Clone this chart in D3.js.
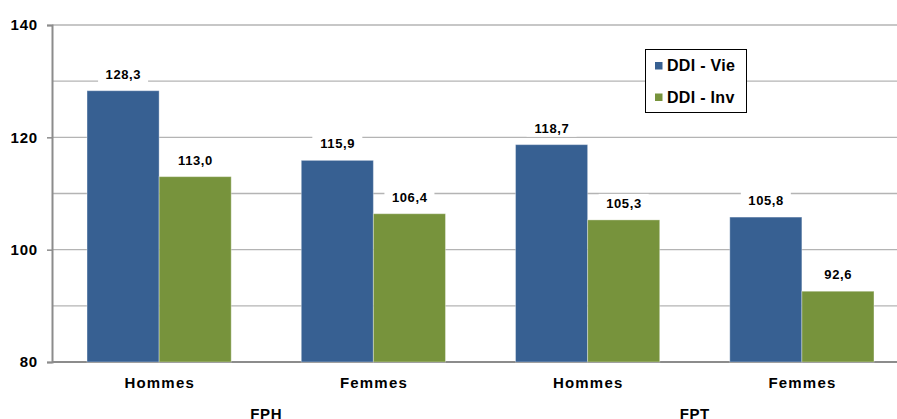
<!DOCTYPE html>
<html><head><meta charset="utf-8">
<script src="https://cdn.jsdelivr.net/npm/d3@7/dist/d3.min.js"></script>
<style>body{margin:0;background:#fff}svg{display:block}text{font-family:"Liberation Sans",Arial,sans-serif;font-weight:bold;fill:#000}</style>
</head><body><svg id="c" width="897" height="419"></svg>
<script>
const categories = ["Hommes","Femmes","Hommes","Femmes"];
const groups = ["FPH","FPT"];
const seriesNames = ["DDI - Vie","DDI - Inv"];
const vie = [128.3,115.9,118.7,105.8];
const inv = [113.0,106.4,105.3,92.6];
const yTicks = [80,100,120,140];
const yGrid = [80,90,100,110,120,130,140];
const colors = ["#376092","#77933C"];

(function(){
const svg = d3.select("#c");
const mLeft = 52, mRight = 909, mTop = 25, mBottom = 362;
const x = d3.scaleBand().domain(d3.range(categories.length)).range([mLeft,mRight]).paddingInner(0.327).paddingOuter(0.1635);
const x1 = d3.scaleBand().domain([0,1]).range([0,x.bandwidth()]);
const y = d3.scaleLinear().domain([80,140]).range([mBottom,mTop]);
const fmt = v => v.toFixed(1).replace(".",",");

// gridlines
svg.append("g").selectAll("line").data(yGrid).join("line")
  .attr("x1",mLeft).attr("x2",897).attr("y1",d=>y(d)).attr("y2",d=>y(d))
  .attr("stroke",d=>d===80?"#8c8c8c":"#b4b4b4").attr("stroke-width",d=>d===80?2:1.3);

// y axis
const yAxis = d3.axisLeft(y).tickValues(yTicks).tickSize(5).tickPadding(9).tickFormat(d3.format("d"));
const ga = svg.append("g").attr("transform",`translate(${mLeft},0)`).call(yAxis);
ga.select(".domain").attr("stroke","#8c8c8c").attr("stroke-width",2);
ga.selectAll(".tick line").attr("stroke","#8c8c8c").attr("stroke-width",1.5);
ga.selectAll("text").attr("font-size",15).attr("letter-spacing","0.8px").attr("font-family","Liberation Sans, Arial, sans-serif").attr("font-weight","bold").attr("fill","#000");

const data = categories.map((c,i)=>({i, vals:[vie[i],inv[i]]}));
const g = svg.append("g");
data.forEach(d=>{
  d.vals.forEach((v,s)=>{
    const bx = x(d.i)+x1(s);
    g.append("rect").attr("x",bx).attr("y",y(v)).attr("width",x1.bandwidth()).attr("height",y(80)-y(v))
      .attr("fill",colors[s]).attr("stroke","rgba(255,255,255,0.35)").attr("stroke-width",1);
    const cx = bx + x1.bandwidth()/2;
    const t = fmt(v);
    g.append("rect").attr("x",cx-25).attr("y",y(v)-26).attr("width",50).attr("height",18).attr("fill","#fff");
    g.append("text").attr("x",cx+0.3).attr("y",y(v)-12).attr("text-anchor","middle").attr("font-size",13).attr("letter-spacing","0.6px").text(t);
  });
});

// category labels
svg.append("g").selectAll("text").data(categories).join("text")
  .attr("x",(d,i)=>x(i)+x.bandwidth()/2+0.6).attr("y",388).attr("text-anchor","middle").attr("font-size",15).attr("letter-spacing","1.2px").text(d=>d);
// group labels
svg.append("g").selectAll("text").data(groups).join("text")
  .attr("x",(d,i)=>(x(2*i)+x(2*i+1)+x.bandwidth())/2).attr("y",418.5).attr("text-anchor","middle").attr("font-size",15).attr("letter-spacing","0.6px").text(d=>d);

// legend
const lg = svg.append("g");
lg.append("rect").attr("x",645.5).attr("y",49.5).attr("width",101).attr("height",63).attr("fill","#fff").attr("stroke","#000").attr("stroke-width",1);
seriesNames.forEach((n,i)=>{
  lg.append("rect").attr("x",655).attr("y",62+i*31.5).attr("width",7.5).attr("height",7.5).attr("fill",colors[i]);
  lg.append("text").attr("x",667).attr("y",71+i*31.5).attr("font-size",16).attr("letter-spacing","0.3px").text(n);
});
})();
</script></body></html>
